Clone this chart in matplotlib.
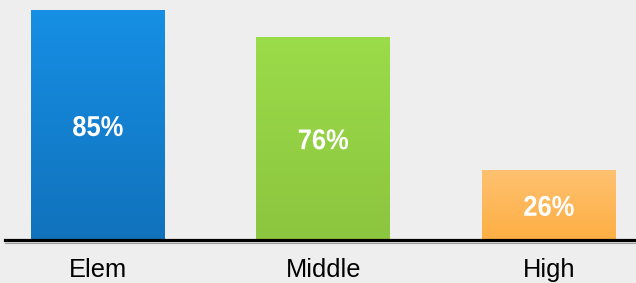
import numpy as np
import matplotlib.pyplot as plt
from matplotlib.colors import LinearSegmentedColormap
from matplotlib.font_manager import FontProperties
from matplotlib.patches import PathPatch
from matplotlib.textpath import TextPath
from matplotlib.transforms import Affine2D, ScaledTranslation

# Data
categories = ['Elem', 'Middle', 'High']
values = [85, 75.2, 26]
value_labels = ['85%', '76%', '26%']
top_colors = ['#168fe4', '#9bdc4a', '#ffc171']
bottom_colors = ['#1172bc', '#8cc53f', '#fdaf43']

W, H = 636, 283
fig = plt.figure(figsize=(W / 100, H / 100), dpi=100)
fig.patch.set_facecolor('#eeeeee')

ax = fig.add_axes([5 / W, 43 / H, 1 - 5 / W, 240 / H])
ax.set_facecolor('#eeeeee')

x = np.arange(len(categories))
bars = ax.bar(x, values, width=0.594, color='none', edgecolor='none')

bold = FontProperties(family='Liberation Sans', weight='bold')

# Vertical gradient inside each bar, condensed bold label in the middle
grad = np.linspace(1, 0, 256).reshape(-1, 1)
for bar, c_top, c_bot, lab in zip(bars, top_colors, bottom_colors, value_labels):
    cmap = LinearSegmentedColormap.from_list('g', [c_bot, c_top])
    x0, w, h = bar.get_x(), bar.get_width(), bar.get_height()
    im = ax.imshow(grad, cmap=cmap, aspect='auto', vmin=0, vmax=1,
                   extent=[x0, x0 + w, 0, h], zorder=2)
    im.set_clip_path(bar)

    tp = TextPath((0, 0), lab, size=1, prop=bold)
    ext = tp.get_extents()
    cx, cy = (ext.x0 + ext.x1) / 2, (ext.y0 + ext.y1) / 2
    tr = (Affine2D().translate(-cx, -cy).scale(25.5, 28.6)
          + ScaledTranslation(x0 + w / 2, h / 2 - 0.4, ax.transData))
    ax.add_patch(PathPatch(tp, transform=tr, facecolor='white',
                           edgecolor='none', zorder=3))

ax.set_xlim(-0.412, 2.386)
ax.set_ylim(0, 85 * 240 / 230)

# Baseline: thick black with a thin grey edge underneath
fig.add_artist(plt.Line2D([5 / W, 1], [1 - 242.6 / H] * 2, color='#9a9a9a', lw=0.8))
ax.axhline(0, color='black', lw=2.3, zorder=4, clip_on=False)

for s in ['top', 'right', 'left', 'bottom']:
    ax.spines[s].set_visible(False)
ax.set_yticks([])
ax.set_xticks(x)
ax.set_xticklabels(categories, fontsize=18.3, family='Liberation Sans')
ax.tick_params(axis='x', length=0, pad=13)

fig.savefig('out.png', dpi=100, facecolor=fig.get_facecolor())
